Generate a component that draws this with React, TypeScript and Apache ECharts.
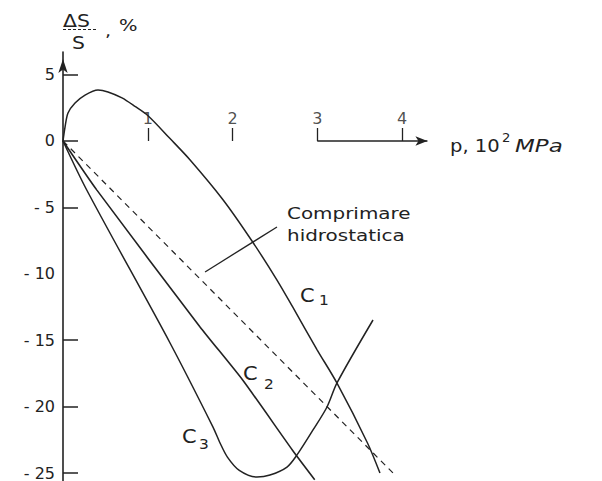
import { useEffect, useRef } from 'react';
import * as echarts from 'echarts';

// Curve C1 (pressure in 10^2 MPa, relative change ΔS/S in %)
const c1Pressure = [0, 0.024, 0.059, 0.142, 0.26, 0.413, 0.531, 0.696, 0.85, 1.003, 1.26, 1.5, 1.89, 2.23, 2.525, 2.71, 3.0, 3.23, 3.59, 3.74];
const c1Change = [0, 1.05, 2.11, 2.86, 3.46, 3.84, 3.69, 3.24, 2.6, 1.9, 0.2, -1.43, -4.44, -7.53, -10.47, -12.5, -15.74, -18.2, -22.7, -25.0];

// Curve C2
const c2Pressure = [0, 0.4, 1.617, 2.12, 2.71, 2.97];
const c2Change = [0, -3.7, -14.0, -18.0, -23.3, -25.5];

// Curve C3
const c3Pressure = [0, 0.28, 1.263, 1.77, 1.85, 1.94, 2.08, 2.289, 2.442, 2.643, 2.761, 2.95, 3.115, 3.233, 3.658];
const c3Change = [0, -3.69, -15.21, -21.54, -22.7, -23.8, -24.8, -25.3, -25.15, -24.55, -23.64, -21.76, -20.03, -18.22, -13.48];

// Hydrostatic compression (dashed)
const hydroPressure = [0, 3.894];
const hydroChange = [0, -25.0];

// Leader line of the "Comprimare hidrostatica" note
const leaderPressure = [1.676, 2.525];
const leaderChange = [-9.86, -6.48];

// Visible part of the p axis (with arrow)
const pAxisStart = 3;
const pAxisEnd = 4.3;

const xTickValues = [1, 2, 3, 4];
const yTickValues = [5, 0, -5, -15, -20, -25];
const yLabelValues = [5, 0, -5, -10, -15, -20, -25];

const pair = (xs: number[], ys: number[]) => xs.map((x, i) => [x, ys[i]]);

export default function App() {
  const ref = useRef<HTMLDivElement>(null);

  useEffect(() => {
    const chart = echarts.init(ref.current!, null, { renderer: 'svg' });
    const FONT = 'DejaVu Sans';
    const INK = '#222';
    const lineBase = { type: 'line', symbol: 'none', silent: true, z: 3 };

    const txt = (text: string, x: number, y: number, fontSize: number, scaleX: number, extra: any = {}) => ({
      type: 'text',
      x,
      y,
      scaleX,
      silent: true,
      style: {
        text,
        fontFamily: FONT,
        fontSize,
        fill: INK,
        align: 'left',
        verticalAlign: 'middle',
        ...extra,
      },
    });

    chart.setOption({
      animation: false,
      backgroundColor: '#ffffff',
      grid: { left: 63, top: 52, width: 508.5, height: 429 },
      xAxis: {
        type: 'value',
        min: 0,
        max: 6,
        axisLine: { show: true, onZero: true, lineStyle: { color: INK, opacity: 0 } },
        axisTick: {
          show: true,
          inside: true,
          length: 13,
          customValues: xTickValues,
          lineStyle: { color: INK, width: 1.3 },
        },
        axisLabel: { show: false },
        splitLine: { show: false },
      },
      yAxis: {
        type: 'value',
        min: -25.6,
        max: 6.7,
        axisLine: {
          show: true,
          symbol: ['none', 'arrow'],
          symbolSize: [7, 14],
          symbolOffset: [0, -7],
          lineStyle: { color: INK, width: 1.6 },
        },
        axisTick: {
          show: true,
          inside: true,
          length: 15,
          customValues: yTickValues,
          lineStyle: { color: INK, width: 1.5 },
        },
        axisLabel: {
          show: true,
          margin: 8,
          customValues: yLabelValues,
          fontFamily: FONT,
          fontSize: 16,
          color: INK,
          formatter: (v: number) => (v < 0 ? '- ' + String(-v) : String(v)),
        },
        splitLine: { show: false },
      },
      series: [
        {
          ...lineBase,
          name: 'C1',
          smooth: 0.3,
          data: pair(c1Pressure, c1Change),
          lineStyle: { color: INK, width: 1.5 },
        },
        {
          ...lineBase,
          name: 'C2',
          smooth: 0.2,
          data: pair(c2Pressure, c2Change),
          lineStyle: { color: INK, width: 1.6 },
        },
        {
          ...lineBase,
          name: 'C3',
          smooth: 0.3,
          data: pair(c3Pressure, c3Change),
          lineStyle: { color: INK, width: 1.5 },
        },
        {
          ...lineBase,
          name: 'Comprimare hidrostatica',
          data: pair(hydroPressure, hydroChange),
          lineStyle: { color: INK, width: 1.2, type: [6, 5] },
        },
        {
          ...lineBase,
          name: 'leader',
          data: pair(leaderPressure, leaderChange),
          lineStyle: { color: INK, width: 1.3 },
          markLine: {
            silent: true,
            symbol: ['none', 'arrow'],
            symbolSize: [7, 12],
            label: { show: false },
            lineStyle: { color: INK, width: 1.5, type: 'solid' },
            emphasis: { disabled: true },
            data: [[{ coord: [pAxisStart, 0] }, { coord: [pAxisEnd, 0] }]],
          },
        },
        {
          type: 'scatter',
          name: 'p ticks',
          silent: true,
          symbolSize: 0,
          data: xTickValues.map((v) => [v, 0]),
          label: {
            show: true,
            position: 'top',
            distance: 14,
            fontFamily: FONT,
            fontSize: 16,
            color: INK,
            formatter: (p: any) => String(p.value[0]),
          },
        },
      ],
      graphic: [
        // y-axis name: ΔS / S , %
        txt('ΔS', 63, 21, 17, 1.2),
        {
          type: 'line',
          silent: true,
          shape: { x1: 63, y1: 29.5, x2: 96, y2: 29.5 },
          style: { stroke: INK, lineWidth: 1, lineDash: [3, 2] },
        },
        txt('S', 72, 43, 17, 1.2),
        txt(',', 105, 31, 16, 1.2),
        txt('%', 119, 26, 15, 1.3),
        // x-axis name: p, 10² MPa
        txt('p, 10', 450, 146, 17, 1.15),
        txt('2', 502, 138, 12, 1.1),
        txt('MPa', 515, 146, 17, 1.35, { fontStyle: 'italic' }),
        // note
        txt('Comprimare\nhidrostatica', 287, 225, 15, 1.33, { lineHeight: 22 }),
        // curve labels
        txt('C', 300, 295, 19, 1.1),
        txt('1', 319, 300, 14, 1.1),
        txt('C', 243, 373, 19, 1.1),
        txt('2', 264, 384, 14, 1.1),
        txt('C', 182, 436, 19, 1.1),
        txt('3', 199, 444, 14, 1.1),
      ],
    });

    return () => chart.dispose();
  }, []);

  return (
    <div
      ref={ref}
      style={{ position: 'absolute', left: 0, top: 0, width: 602, height: 481, background: '#fff' }}
    />
  );
}
